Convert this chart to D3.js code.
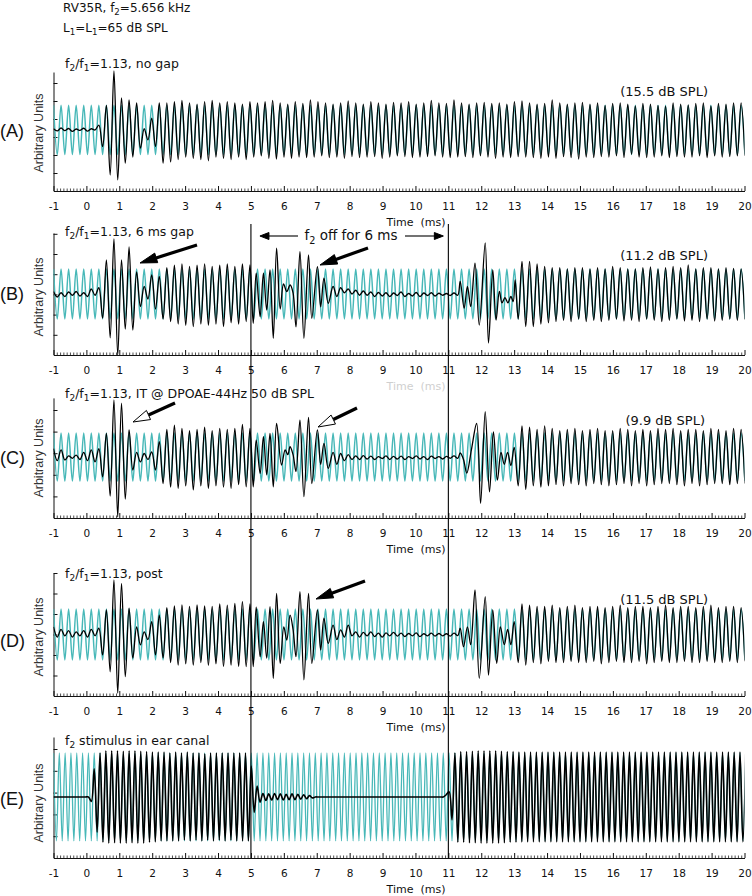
<!DOCTYPE html>
<html><head><meta charset="utf-8">
<script src="https://cdn.jsdelivr.net/npm/d3@7"></script>
<style>body{margin:0;background:#fff}svg{display:block}text{font-family:"DejaVu Sans",sans-serif;fill:#111}</style>
</head><body>
<svg id="c" width="752" height="896"></svg>
<script>
// ---------------- DATA ----------------
const f2kHz = 5.656, ratioF2F1 = 1.13;
const headerLines = ["RV35R, f_2=5.656 kHz", "L_1=L_1=65 dB SPL"];
const panelLetters = ["(A)", "(B)", "(C)", "(D)", "(E)"];
const panelTitles = ["f_2/f_1=1.13, no gap", "f_2/f_1=1.13, 6 ms gap", "f_2/f_1=1.13, IT @ DPOAE-44Hz 50 dB SPL", "f_2/f_1=1.13, post", "f_2 stimulus in ear canal"];
const levelLabels = ["(15.5 dB SPL)", "(11.2 dB SPL)", "(9.9 dB SPL)", "(11.5 dB SPL)", ""];
const timeTickLabels = [-1,0,1,2,3,4,5,6,7,8,9,10,11,12,13,14,15,16,17,18,19,20];
const gapEdges = [5, 11];
const cyanAmp = [1, 1, 1, 1, 1];

// black trace: successive half-cycle extremes (relative to cyan amplitude), null = see transient list
const blackA = [
 0.05,-0.04,0.08,-0.03,0.06,-0.06,0.04,-0.02,0.07,-0.05,
 0.05,0.0,0.2,-0.68,1.0,-1.83,2.4,-2.03,1.3,-1.35,
 1.22,-1.1,1.1,-0.74,0.05,-0.4,0.48,-0.68,1.1,-1.35,
 1.1,-1.3,1.15,-1.2,1.2,-1.1,1.1,-1.15,1.05,-1.2,
 1.15,-1.25,1.2,-1.1,1.1,-1.15,1.15,-1.2,1.1,-1.1,
 1.05,-1.2,1.15,-1.1,1.1,-1.05,1.15,-1.15,1.2,-1.18,
 1.1,-1.1,1.05,-1.15,1.15,-1.1,1.08,-1.12,1.22,-1.1,
 1.15,-1.05,1.1,-1.12,1.05,-1.1,1.1,-1.15,1.18,-1.08,
 1.1,-1.12,1.05,-1.1,1.15,-1.08,1.1,-1.15,1.05,-1.1,
 1.12,-1.05,1.1,-1.08,1.15,-1.12,1.05,-1.1,1.1,-1.08,
 1.2,-1.05,1.1,-1.1,1.08,-1.12,1.22,-1.1,1.1,-1.08,
 1.05,-1.12,1.1,-1.05,1.12,-1.1,1.08,-1.15,1.1,-1.1,
 1.05,-1.12,1.15,-1.08,1.18,-1.1,1.1,-1.12,1.05,-1.15,
 1.08,-1.1,1.22,-1.15,1.1,-1.08,1.05,-1.12,1.1,-1.18,
 1.12,-1.1,1.05,-1.12,1.1,-1.08,1.0,-1.1,1.08,-1.05,
 1.1,-1.12,1.05,-0.98,0.98,-1.1,1.08,-1.12,1.05,-1.1,
 1.0,-1.05,0.97,-1.12,1.1,-1.08,1.05,-1.1,1.02,-1.1,
 1.08,-1.05,1.1,-1.12,0.98,-1.05,1.08,-1.1,1.05,-1.08,
 1.1,-1.05,1.1,-1.05
];
const blackB = [
 0.1,-0.12,0.05,-0.1,0.08,-0.05,0.1,-0.08,0.05,-0.1,
 0.2,-0.05,0.25,-0.96,1.36,-1.75,2.2,-2.44,1.36,-1.4,
 1.88,-1.44,0.88,-0.5,0.3,-0.2,0.76,-0.6,0.7,-1.0,
 1.05,-1.1,1.15,-1.2,1.2,-1.25,1.1,-1.3,1.15,-1.2,
 1.2,-1.25,1.1,-1.2,1.15,-1.3,1.2,-1.15,1.1,-1.2,
 1.2,-1.1,1.16,null,null,null,null,null,null,null,
 null,null,null,null,null,null,null,null,null,null,
 null,null,null,null,0.3,-0.1,0.25,0.05,0.2,0.0,
 0.15,-0.05,0.12,-0.05,0.08,-0.1,0.06,-0.08,0.05,-0.1,
 0.04,-0.06,0.08,-0.1,0.02,-0.08,0.06,-0.1,0.04,-0.06,
 0.05,-0.08,0.03,-0.05,0.02,-0.06,0.04,-0.05,null,null,
 null,null,null,null,null,null,null,null,null,null,
 null,null,null,-1.0,1.3,-1.3,1.3,-1.3,1.2,-1.2,
 1.1,-1.15,1.05,-1.1,1.05,-1.05,1.0,-1.1,1.05,-1.0,
 1.05,-1.1,1.0,-1.05,1.05,-1.1,1.0,-1.05,1.1,-1.0,
 1.05,-1.08,1.0,-1.05,1.0,-1.1,1.05,-1.0,1.08,-1.05,
 1.0,-1.1,1.05,-1.05,1.1,-1.0,1.05,-1.08,1.16,-1.05,
 1.0,-1.1,1.05,-1.0,1.05,-1.08,1.0,-1.05,1.05,-1.0,
 1.02,-1.05,1.0,-1.02
];
const blackC = [
 0.35,-0.15,0.3,-0.12,0.05,-0.05,0.08,-0.1,0.2,-0.15,
 0.3,-0.2,0.35,-0.82,0.99,-1.63,2.38,-2.49,2.25,-1.75,
 1.13,-0.54,0.2,-0.2,0.15,-0.1,0.22,-0.54,0.64,-1.1,
 1.15,-1.25,1.33,-1.3,1.2,-1.2,1.1,-1.37,1.15,-1.2,
 1.25,-1.3,1.1,-1.2,1.2,-1.25,1.15,-1.3,1.2,-1.15,
 1.36,-1.24,1.2,null,null,null,null,null,null,null,
 null,null,null,null,null,null,null,null,null,null,
 null,null,null,null,0.2,-0.3,0.15,-0.15,0.1,-0.1,
 0.05,-0.1,0.06,-0.08,0.04,-0.1,0.02,-0.06,0.05,-0.1,
 0.03,-0.08,0.04,-0.1,0.02,-0.06,0.05,-0.08,0.02,-0.1,
 0.04,-0.06,0.02,-0.08,0.03,-0.05,0.05,-0.05,null,null,
 null,null,null,null,null,null,null,null,null,null,
 null,null,null,-1.2,1.3,-1.35,1.25,-1.2,1.15,-1.25,
 1.3,-1.2,1.2,-1.15,1.1,-1.2,1.15,-1.1,1.2,-1.15,
 1.1,-1.2,1.15,-1.1,1.2,-1.15,1.1,-1.2,1.1,-1.15,
 1.2,-1.1,1.15,-1.2,1.1,-1.1,1.15,-1.2,1.1,-1.15,
 1.2,-1.1,1.15,-1.1,1.2,-1.15,1.1,-1.2,1.15,-1.1,
 1.15,-1.2,1.1,-1.15,1.2,-1.1,1.15,-1.1,1.1,-1.15,
 1.2,-1.1,1.15,-1.1
];
const blackD = [
 0.3,-0.1,0.2,-0.05,0.15,-0.1,0.1,-0.05,0.15,-0.1,
 0.2,-0.05,0.25,-0.8,0.96,-1.46,2.14,-2.3,2.0,-1.65,
 1.03,-0.93,0.3,-0.41,0.1,-0.2,0.5,-0.8,0.76,-0.92,
 1.05,-1.1,1.12,-1.2,1.16,-1.15,1.1,-1.2,1.16,-1.1,
 1.12,-1.2,1.1,-1.15,1.2,-1.25,1.15,-1.2,1.22,-1.25,
 1.29,-1.26,1.2,null,null,null,null,null,null,null,
 null,null,null,null,null,null,null,null,null,null,
 null,null,null,null,0.37,-0.2,0.18,-0.1,0.37,-0.05,
 0.1,-0.1,0.08,-0.05,0.1,-0.08,0.05,-0.1,0.06,-0.05,
 0.08,-0.06,0.05,-0.08,0.04,-0.05,0.06,-0.08,0.03,-0.05,
 0.05,-0.06,0.04,-0.05,0.03,-0.06,0.05,-0.04,null,null,
 null,null,null,null,null,null,null,null,null,null,
 null,null,null,-1.1,1.2,-1.2,1.15,-1.1,1.1,-1.15,
 1.1,-1.05,1.15,-1.1,1.05,-1.1,1.1,-1.05,1.15,-1.1,
 1.05,-1.1,1.1,-1.05,1.1,-1.15,1.05,-1.1,1.1,-1.05,
 1.15,-1.1,1.05,-1.1,1.1,-1.05,1.1,-1.15,1.05,-1.1,
 1.1,-1.05,1.15,-1.1,1.05,-1.1,1.1,-1.05,1.1,-1.1,
 1.05,-1.1,1.1,-1.05,1.15,-1.1,1.05,-1.1,1.1,-1.05,
 1.1,-1.1,1.05,-1.05
];
// panel E: f2 stimulus, half-cycle extremes at f2
const blackE = [
 0,0,0,0,0,0,0,0,0,0,
 0,0,0,-0.1,0.64,-0.8,1.0,-1.03,1.05,-1.05,
 1.05,-1.04,1.05,-1.05,1.04,-1.05,1.05,-1.04,1.05,-1.05,
 1.04,-1.05,1.03,-1.03,1.02,-1.02,1.02,-1.0,1.02,-1.0,
 1.0,-1.0,1.02,-1.0,1.0,-0.98,1.02,-1.0,1.0,-0.98,
 1.0,-1.0,0.98,-0.98,1.0,-1.0,1.0,-0.98,1.0,-1.0,
 1.0,-0.98,1.0,-1.0,1.0,-1.0,1.0,-1.0,0.7,-0.35,
 0.25,-0.12,0.08,-0.08,0.07,-0.07,0.08,-0.06,0.07,-0.07,
 0.06,-0.06,0.07,-0.06,0.06,-0.05,0.05,-0.04,0.03,-0.02,
 0,0,0,0,0,0,0,0,0,0,
 0,0,0,0,0,0,0,0,0,0,
 0,0,0,0,0,0,0,0,0,0,
 0,0,0,0,0,0,0,0,0,0,
 0,0,0,0,0,0.05,0.12,-0.52,1.0,-1.03,
 1.03,-1.03,1.03,-1.04,1.04,-1.04,1.05,-1.05,1.05,-1.05,
 1.05,-1.05,1.05,-1.05,1.04,-1.04,1.03,-1.03,1.03,-1.03,
 1.02,-1.02,1.02,-1.02,1.02,-1.02,1.02,-1.02,1.02,-1.02,
 1.02,-1.02,1.02,-1.02,1.02,-1.02,1.02,-1.02,1.02,-1.02,
 1.02,-1.02,1.02,-1.02,1.02,-1.02,1.02,-1.02,1.02,-1.02,
 1.02,-1.02,1.02,-1.02,1.02,-1.02,1.02,-1.02,1.02,-1.02,
 1.02,-1.02,1.02,-1.02,1.02,-1.02,1.02,-1.02,1.02,-1.02,
 1.02,-1.02,1.02,-1.02,1.02,-1.02,1.02,-1.02,1.02,-1.02,
 1.02,-1.02,1.02,-1.02,1.02,-1.02,1.02,-1.02,1.02,-1.02,
 1.02,-1.02,1.02,-1.02,1.02,-1.02,1.02,-1.02,1.02
];
// transient extremes [time ms, value] where the trace leaves the regular grid
const transA = [];
const transB = [
 [5.07,-1.17],[5.16,0.83],[5.28,-0.91],[5.38,0.83],[5.48,-0.64],[5.58,0.96],[5.68,-1.77],[5.78,1.83],[5.89,-0.6],[5.99,0.4],[6.09,0.1],[6.19,0.36],[6.28,0.05],[6.37,-1.31],[6.49,1.69],[6.61,-1.77],[6.75,1.56],[6.85,-0.97],[7.02,1.09],[7.12,-0.51],[7.22,0.63],[7.35,-0.37],
 [11.36,0.5],[11.48,-0.57],[11.58,0.3],[11.68,-0.5],[11.81,1.23],[11.94,-1.24],[12.12,2.04],[12.22,-1.96],[12.35,0.96],[12.45,-1.04],[12.55,0.1],[12.63,-0.35],[12.72,-0.15],[12.81,-0.35],[12.9,-0.1],[12.97,-0.3],[13.03,0.56]
];
const transC = [
 [5.07,-1.24],[5.16,0.71],[5.28,-0.68],[5.38,0.85],[5.48,-0.74],[5.58,0.99],[5.68,-1.24],[5.78,1.40],[5.93,-0.33],[6.04,0.3],[6.12,0.1],[6.19,0.43],[6.28,0.1],[6.37,-0.6],[6.49,1.54],[6.61,-1.65],[6.75,1.65],[6.85,-1.1],[7.02,1.13],[7.12,-0.3],[7.22,0.57],[7.35,-0.47],
 [11.36,0.17],[11.46,-0.1],[11.56,-0.67],[11.7,0.3],[11.86,1.4],[11.98,-1.93],[12.12,1.89],[12.25,-1.45],[12.37,1.05],[12.49,-0.96],[12.6,0.2],[12.7,-0.3],[12.8,0.2],[12.9,-0.35],[13.0,0.4]
];
const transD = [
 [5.07,-1.26],[5.16,1.07],[5.28,-0.87],[5.38,0.5],[5.48,-0.93],[5.58,1.09],[5.68,-1.72],[5.78,1.61],[5.89,-1.13],[6.0,0.3],[6.09,-0.22],[6.19,0.76],[6.28,0.2],[6.37,-0.87],[6.49,1.68],[6.61,-1.78],[6.75,1.61],[6.85,-1.13],[7.02,0.96],[7.12,-0.61],[7.22,0.64],[7.35,-0.35],
 [11.36,0.25],[11.46,-0.48],[11.58,0.3],[11.68,-0.4],[11.81,1.75],[11.94,-1.72],[12.12,1.48],[12.22,-1.59],[12.35,0.96],[12.47,-1.13],[12.58,0.3],[12.7,-0.4],[12.8,0.2],[12.9,-0.4],[13.0,0.5]
];
const transE = [];

// ---------------- LAYOUT ----------------
const W = 752, H = 896;
const fDP = 2 * f2kHz / ratioF2F1 - f2kHz;        // kHz
const halfDP = 0.5 / fDP, halfF2 = 0.5 / f2kHz;    // ms
const blacks = [blackA, blackB, blackC, blackD, blackE];
const trans = [transA, transB, transC, transD, transE];
const halfSteps = [halfDP, halfDP, halfDP, halfDP, halfF2];
const layout = [
 {axisY:191, step:18.0, yMax:6.61, base:3.39, gain:1.367, nT:6, titleY:67.5, lvY:96, lvX:708, letY:136.5, uY:133},
 {axisY:355, step:20.2, yMax:6.04, base:3.02, gain:1.238, nT:6, titleY:235.5, lvY:260, lvX:708, letY:299.5, uY:297},
 {axisY:518, step:21.6, yMax:5.56, base:2.82, gain:1.111, nT:5, titleY:397.5, lvY:425, lvX:705, letY:463.5, uY:458},
 {axisY:696, step:20.5, yMax:6.00, base:3.00, gain:1.244, nT:6, titleY:577.5, lvY:604, lvX:708, letY:646.5, uY:637},
 {axisY:858, step:21.8, yMax:5.55, base:2.80, gain:2.018, nT:5, titleY:744.5, lvY:0, lvX:708, letY:804.5, uY:803}
];
const CYAN = "#48b8b8";

const svg = d3.select("#c");
const x = d3.scaleLinear().domain([-1, 20]).range([53.5, 744.5]);
svg.append("defs").append("clipPath").attr("id", "clipX")
  .append("rect").attr("x", x(-1)).attr("y", 0).attr("width", x(20) - x(-1)).attr("height", H);

function rich(sel, str, size) {
  const parts = str.split(/(_.)/).filter(s => s.length);
  let sub = false;
  const d = size * 0.28;
  parts.forEach(s => {
    if (s[0] === "_" && s.length === 2) {
      sel.append("tspan").attr("font-size", size * 0.72).attr("dy", sub ? 0 : d).text(s[1]);
      sub = true;
    } else {
      const t = sel.append("tspan").text(s);
      if (sub) { t.attr("dy", -d); sub = false; }
    }
  });
  return sel;
}

// header
headerLines.forEach((s, i) => {
  rich(svg.append("text").attr("x", 63).attr("y", 12 + i * 20).attr("font-size", 12), s, 12);
});

const minorTicks = d3.range(-10, 201).map(i => i / 10).filter(v => Math.abs(v - Math.round(v)) > 1e-6);

layout.forEach((L, i) => {
  const y = d3.scaleLinear().domain([0, L.yMax]).range([L.axisY, L.axisY - L.yMax * L.step]);
  const g = svg.append("g");
  // x axis (minor ticks)
  g.append("g").attr("transform", `translate(0,${L.axisY})`)
    .call(d3.axisBottom(x).tickValues(minorTicks).tickSize(-2.5).tickSizeOuter(0).tickFormat(""))
    .call(a => a.select(".domain").remove())
    .call(a => a.selectAll("line").attr("stroke", "#222").attr("stroke-width", 0.8));
  // x axis (major)
  const ax = g.append("g").attr("transform", `translate(0,${L.axisY})`)
    .call(d3.axisBottom(x).tickValues(timeTickLabels).tickSize(-5).tickSizeOuter(0).tickPadding(12).tickFormat(d => String(d)));
  ax.attr("font-family", null).attr("font-size", null);
  ax.selectAll("line").attr("stroke", "#111");
  ax.select(".domain").attr("stroke", "#111");
  ax.selectAll("text").attr("font-size", 10.5).attr("fill", "#111");
  // y axis
  const ay = g.append("g").attr("transform", `translate(${x(-1)},0)`)
    .call(d3.axisRight(y).tickValues(d3.range(1, L.nT + 1)).tickSize(4).tickSizeOuter(0).tickFormat(""));
  ay.selectAll("line").attr("stroke", "#111");
  ay.select(".domain").attr("stroke", "#111");

  // traces
  const h = halfSteps[i];
  const blk = blacks[i];
  const line = d3.line().x(d => x(d[0])).y(d => y(L.base + L.gain * d[1])).curve(d3.curveCatmullRom.alpha(0.5));
  const cyanPts = blk.map((v, k) => [-1 + k * h, (k % 2 ? -1 : 1) * cyanAmp[i]]);
  const blackPts = blk.map((v, k) => v == null ? null : [-1 + k * h, v]).filter(d => d)
    .concat(trans[i]).sort((a, b) => a[0] - b[0]);
  g.append("path").attr("d", line(cyanPts)).attr("fill", "none").attr("stroke", CYAN)
    .attr("stroke-width", i === 4 ? 1.3 : 1.5).attr("clip-path", "url(#clipX)");
  g.append("path").attr("d", line(blackPts)).attr("fill", "none").attr("stroke", "#000")
    .attr("stroke-width", i === 4 ? 1.6 : 1.3).attr("stroke-linejoin", "round").attr("clip-path", "url(#clipX)");

  // texts
  rich(g.append("text").attr("x", 65).attr("y", L.titleY).attr("font-size", 12.5), panelTitles[i], 12.5);
  if (levelLabels[i]) g.append("text").attr("x", L.lvX).attr("y", L.lvY).attr("text-anchor", "end")
    .attr("font-size", 13).text(levelLabels[i]);
  g.append("text").attr("x", 0).attr("y", L.letY).attr("font-size", 18)
    .style("font-family", "'Liberation Sans', Arial, sans-serif").text(panelLetters[i]);
  g.append("text").attr("transform", `translate(43,${L.uY}) rotate(-90)`).attr("text-anchor", "middle")
    .attr("font-size", 12.5).style("font-family", "'Liberation Sans', Arial, sans-serif").style("fill", "#333")
    .text("Arbitrary Units");
  g.append("text").attr("x", 416).attr("y", L.axisY + 35).attr("text-anchor", "middle")
    .attr("font-size", 11).style("white-space", "pre").style("fill", i === 1 ? "#cfcfcf" : "#111")
    .text("Time  (ms)");
});

// gap edge lines
gapEdges.forEach(t => {
  svg.append("line").attr("x1", x(t)).attr("x2", x(t)).attr("y1", 224).attr("y2", layout[4].axisY)
    .attr("stroke", "#000").attr("stroke-width", 1.1);
});

function arrow(x1, y1, x2, y2, o) {
  const dx = x2 - x1, dy = y2 - y1, len = Math.hypot(dx, dy), ux = dx / len, uy = dy / len;
  const bx = x2 - ux * o.hl, by = y2 - uy * o.hl;
  svg.append("line").attr("x1", x1).attr("y1", y1).attr("x2", bx + ux * (o.open ? 0 : 1)).attr("y2", by + uy * (o.open ? 0 : 1))
    .attr("stroke", "#000").attr("stroke-width", o.sw);
  svg.append("path").attr("d", `M${x2},${y2}L${bx - uy * o.hw / 2},${by + ux * o.hw / 2}L${bx + uy * o.hw / 2},${by - ux * o.hw / 2}Z`)
    .attr("fill", o.open ? "#fff" : "#000").attr("stroke", "#000").attr("stroke-width", 1).attr("stroke-linejoin", "miter");
}
const big = {hl: 17, hw: 10, sw: 3.2};
arrow(197, 245, 140, 263, big);
arrow(368, 248, 320, 265, big);
arrow(175, 403, 133, 422, Object.assign({}, big, {open: true}));
arrow(357, 408, 318, 427, Object.assign({}, big, {open: true}));
arrow(365, 581, 316, 599, big);
// f2 off arrows
const small = {hl: 9, hw: 7, sw: 1.1};
arrow(298, 236, x(5) + 9, 236, small);
arrow(405, 236, x(11) - 5, 236, small);
rich(svg.append("text").attr("x", 351).attr("y", 240).attr("text-anchor", "middle").attr("font-size", 13.5), "f_2 off for 6 ms", 13.5);

// sanity check on array lengths
const expect = [184, 184, 184, 184, 239];
const bad = blacks.map((b, i) => b.length !== expect[i] ? `${panelLetters[i]}:${b.length}` : null).filter(d => d);
if (bad.length) throw new Error("length mismatch " + bad.join(" "));
</script>
</body></html>
